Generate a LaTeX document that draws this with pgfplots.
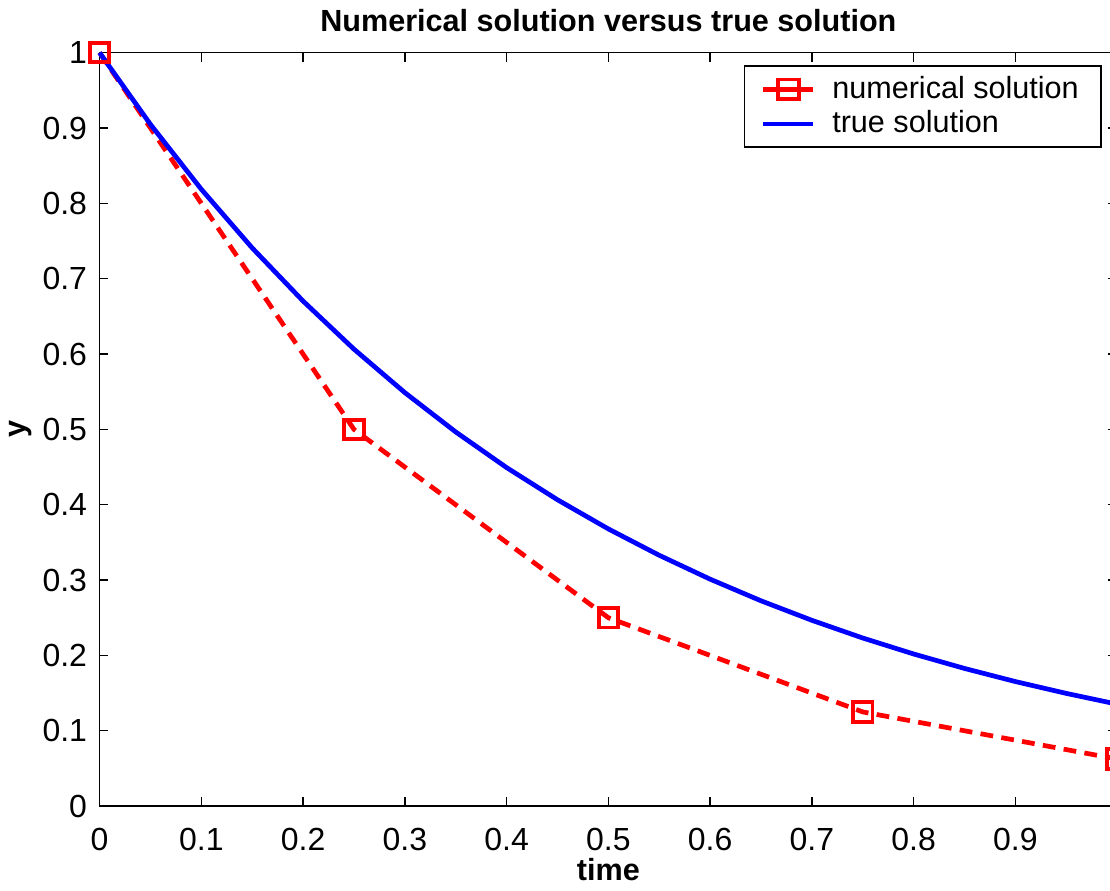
\documentclass[border=0pt]{standalone}
\usepackage{pgfplots}
\pgfplotsset{compat=1.18}
\usetikzlibrary{calc}
\usepackage{fontspec}
\setmainfont{Liberation Sans}
\begin{document}
\begin{tikzpicture}
\begin{axis}[
  name=ax,
  scale only axis,
  width=366pt, height=271pt,
  xmin=0, xmax=1, ymin=0, ymax=1,
  xtick={0,0.1,...,1},
  ytick={0,0.1,...,1},
  xticklabels={0,0.1,0.2,0.3,0.4,0.5,0.6,0.7,0.8,0.9,},
  yticklabels={0,0.1,0.2,0.3,0.4,0.5,0.6,0.7,0.8,0.9,1},
  tick align=inside,
  major tick length=3.2pt,
  tick style={black, line width=0.5pt},
  axis line style={line width=0.6pt},
  /pgf/number format/assume math mode=true,
  ticklabel style={font=\fontsize{11.5}{13}\selectfont},
  xticklabel style={yshift=-4.3pt},
  yticklabel style={xshift=-1pt},
  title={\textbf{Numerical solution versus true solution}},
  title style={font=\fontsize{11}{13}\selectfont, yshift=-2pt},
  xlabel={\textbf{time}},
  ylabel={\textbf{y}},
  xlabel style={font=\fontsize{11}{13}\selectfont, yshift=4pt},
  ylabel style={font=\fontsize{11}{13}\selectfont, yshift=-3pt},
  legend style={at={(rel axis cs:0.985,0.983)}, anchor=north east,
    font=\fontsize{11}{13}\selectfont, draw=black, line width=0.6pt,
    inner xsep=6pt, inner ysep=1.5pt, row sep=-1pt,
    /tikz/every odd column/.append style={column sep=4pt}},
  legend cell align=left,
  legend image post style={xscale=1.05, solid},
  clip=false,
]
\addplot[red, line width=1.7pt, dash pattern=on 4.6pt off 3.0pt,
  mark=square, mark size=3.5pt, mark options={solid, line width=1.4pt}]
  coordinates {(0,1) (0.25,0.5) (0.5,0.25) (0.75,0.125) (1,0.0625)};
\addlegendentry{numerical solution}
\addplot[blue, line width=1.7pt]
  coordinates {(0,1) (0.05,0.9048) (0.1,0.8187) (0.15,0.7408) (0.2,0.6703)
  (0.25,0.6065) (0.3,0.5488) (0.35,0.4966) (0.4,0.4493) (0.45,0.4066)
  (0.5,0.3679) (0.55,0.3329) (0.6,0.3012) (0.65,0.2725) (0.7,0.2466)
  (0.75,0.2231) (0.8,0.2019) (0.85,0.1827) (0.9,0.1653) (0.95,0.1496)
  (1,0.1353)};
\addlegendentry{true solution}
\end{axis}
\pgfresetboundingbox
\path let \p1 = (ax.outer south west),
          \p2 = ($(ax.south west)!0.993!(ax.south east)$),
          \p3 = (ax.outer north east) in
  [use as bounding box] (\x1,\y1) rectangle (\x2,\y3);
\end{tikzpicture}
\end{document}
